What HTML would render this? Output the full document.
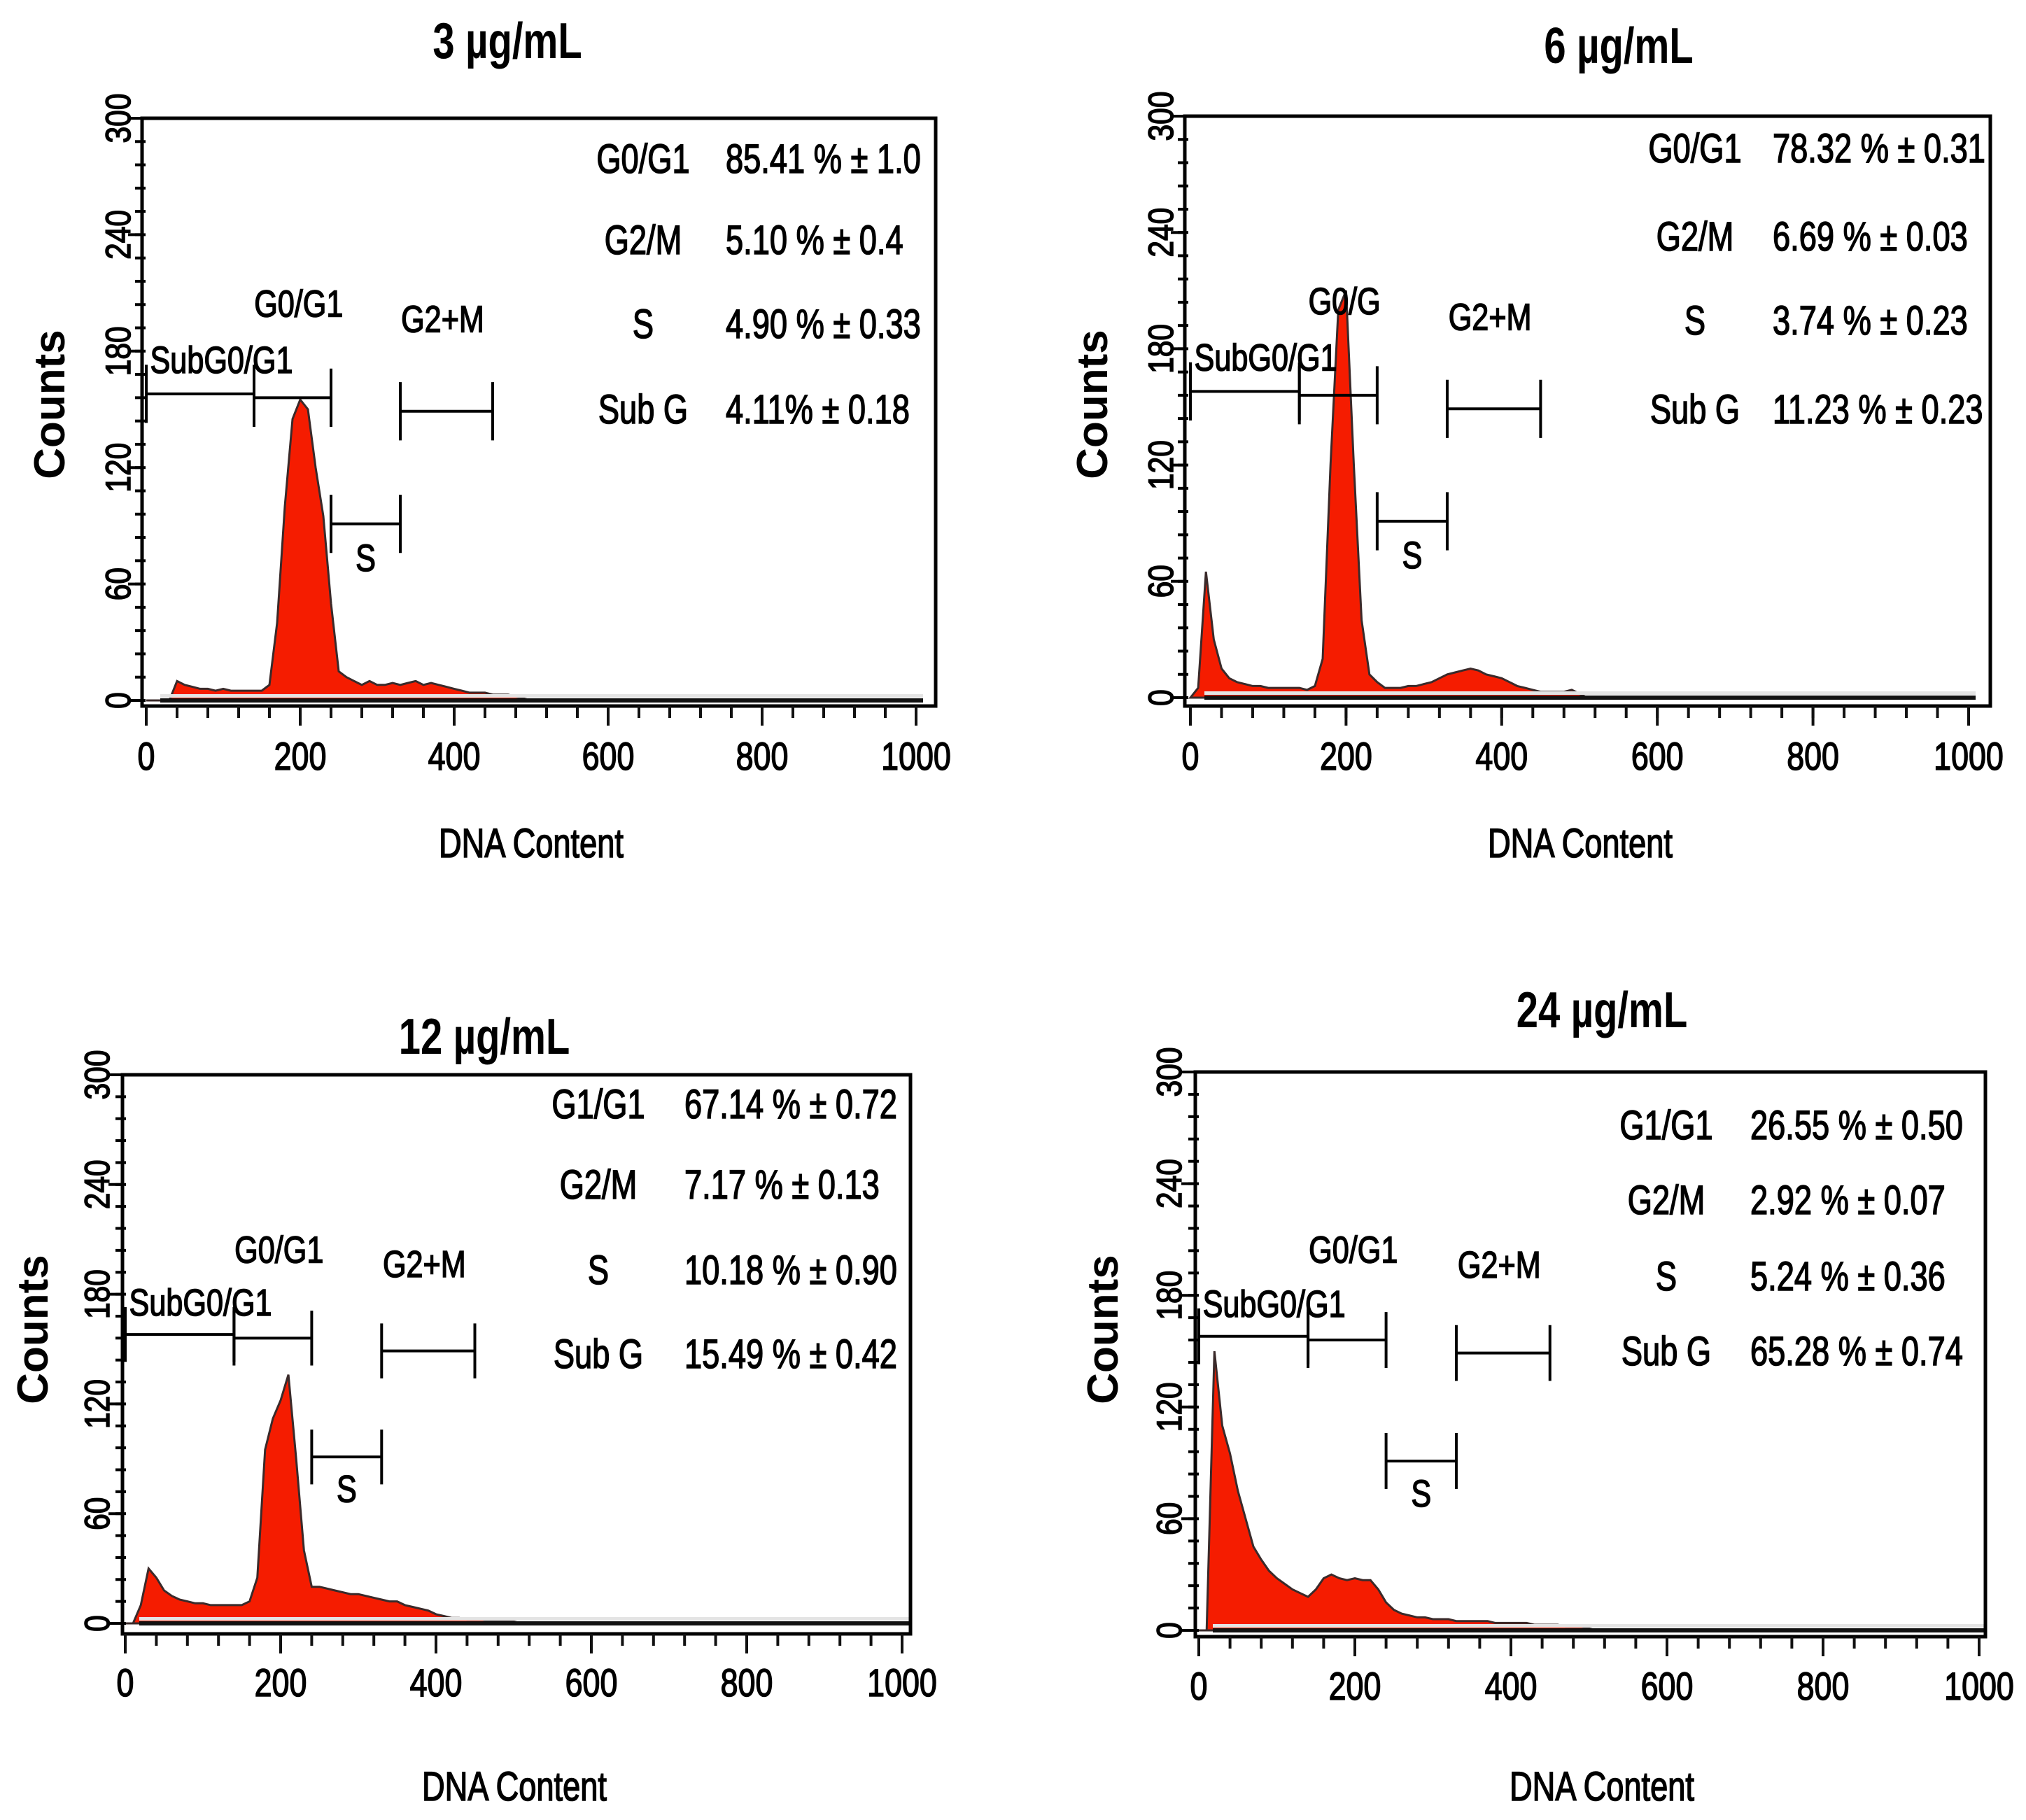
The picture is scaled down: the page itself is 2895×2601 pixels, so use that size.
<!DOCTYPE html>
<html><head><meta charset="utf-8"><style>
html,body{margin:0;padding:0;background:#fff;}
svg{display:block;}
text{font-family:"Liberation Sans",sans-serif;fill:#000;}
.b{stroke:#000;stroke-width:1.6px;}
</style></head><body>
<svg id="fig" width="2895" height="2601" viewBox="0 0 2895 2601" xmlns="http://www.w3.org/2000/svg"></svg>
<script>
// Bin positions (DNA content) shared by all panels
const bins = [0,10,20,30,40,50,60,70,80,90,100,110,120,130,140,150,160,170,180,190,200,210,220,230,240,250,260,270,280,290,300,310,320,330,340,350,360,370,380,390,400,410,420,430,440,450,460,470,480,490,500,510];
// Count series per concentration
const counts3 = [0,0,0,0,10,8,7,6,6,5,6,5,5,5,5,5,8,40,100,145,155,150,120,95,50,15,12,10,8,10,8,8,9,8,9,10,8,9,8,7,6,5,4,4,4,3,3,3,2,1,0,0];
const counts6 = [0,5,65,30,15,10,8,7,6,6,5,5,5,5,5,4,6,20,120,200,210,120,40,12,8,5,5,5,6,6,7,8,10,12,13,14,15,14,12,11,10,8,6,5,4,3,3,3,3,4,2,0];
const counts12 = [0,0,10,30,25,18,15,13,12,11,11,10,10,10,10,10,12,25,95,112,122,136,90,40,20,20,19,18,17,16,16,15,14,13,12,12,10,9,8,7,5,4,3,3,2,2,2,1,1,1,1,0];
const counts24 = [0,0,150,110,95,75,60,45,38,32,28,25,22,20,18,22,28,30,28,27,28,27,27,22,15,11,9,8,7,7,6,6,6,5,5,5,5,5,4,4,4,4,4,3,3,3,3,2,2,2,1,0];
const yTicks = [0,60,120,180,240,300];
const xTicks = [0,200,400,600,800,1000];
const titles = ["3 µg/mL","6 µg/mL","12 µg/mL","24 µg/mL"];
const statLabels1 = ["G0/G1","G2/M","S","Sub G"];
const statLabels2 = ["G1/G1","G2/M","S","Sub G"];
const stats3 = ["85.41 % ± 1.0","5.10 % ± 0.4","4.90 % ± 0.33","4.11% ± 0.18"];
const stats6 = ["78.32 % ± 0.31","6.69 % ± 0.03","3.74 % ± 0.23","11.23 % ± 0.23"];
const stats12 = ["67.14 % ± 0.72","7.17  % ± 0.13","10.18 % ± 0.90","15.49 % ± 0.42"];
const stats24 = ["26.55 % ± 0.50","2.92 % ± 0.07","5.24 % ± 0.36","65.28 % ± 0.74"];

const NS="http://www.w3.org/2000/svg";
const svg=document.getElementById('fig');
function el(tag,attrs,parent){const e=document.createElementNS(NS,tag);for(const k in attrs)e.setAttribute(k,attrs[k]);(parent||svg).appendChild(e);return e;}

const panels=[
 {L:203,R:1337,T:169,B:1009,x0:209,x1:1309,y0:1001,y1:169,title:[725,59],series:counts3,labels:statLabels1,stats:stats3,lx:919,vx:1037,rows:[227,343,463,585],dna:[759,1205],tickY:1080,counts:[70,578],ylab:170},
 {L:1693,R:2844,T:166,B:1009,x0:1701,x1:2813,y0:997,y1:166,title:[2313,66],series:counts6,labels:statLabels1,stats:stats6,lx:2422,vx:2533,rows:[212,338,458,585],dna:[2258,1205],tickY:1080,counts:[1560,578],ylab:1660},
 {L:175,R:1301,T:1536,B:2335,x0:179,x1:1289,y0:2320,y1:1536,title:[692,1482],series:counts12,labels:statLabels2,stats:stats12,lx:855,vx:978,rows:[1578,1693,1815,1935],dna:[735,2553],tickY:2404,counts:[46,1900],ylab:140},
 {L:1708,R:2837,T:1532,B:2339,x0:1713,x1:2828,y0:2330,y1:1532,title:[2289,1444],series:counts24,labels:statLabels2,stats:stats24,lx:2381,vx:2501,rows:[1608,1715,1824,1931],dna:[2289,2553],tickY:2409,counts:[1575,1900],ylab:1672}
];

panels.forEach((p,i)=>{
 const g=el('g',{});
 
 
 const X=v=>p.x0+(p.x1-p.x0)*v/1000;
 const Y=v=>p.y0+(p.y1-p.y0)*v/300;
 const cx="scale(0.78,1)";
 const t=el('text',{x:p.title[0]/0.78,y:p.title[1]+24,'font-size':72,'font-weight':'bold','text-anchor':'middle',transform:cx},g);
 t.textContent=titles[i];
 
 
 let pts=[[X(bins[0]),Y(0)]];
 bins.forEach((b,j)=>pts.push([X(b),Y(p.series[j])]));
 pts.push([X(bins[bins.length-1]),Y(0)]);
 const d='M'+pts.map(q=>q[0].toFixed(1)+','+q[1].toFixed(1)).join('L')+'Z';
 const area=el('path',{d:d,fill:'#f51c00',stroke:'#3a2a2a','stroke-width':3},g);
 
 
 el('rect',{x:p.x0+20,y:p.y0-9,width:p.x1-p.x0-10,height:5,fill:'#e4e4e4'},g);
 const bl=el('line',{x1:p.x0+20,x2:p.x1+10,y1:p.y0,y2:p.y0,stroke:'#111','stroke-width':6},g);
 
 
 const fr=el('rect',{x:p.L,y:p.T,width:p.R-p.L,height:p.B-p.T,fill:'none',stroke:'#000','stroke-width':5},g);
 
 
 for(let v=0;v<=300;v+=12){const yy=Y(v);el('line',{x1:p.L-10,x2:p.L+5,y1:yy,y2:yy,stroke:'#000','stroke-width':4},g);}
 yTicks.forEach(v=>{const yy=Y(v);el('line',{x1:p.L-20,x2:p.L,y1:yy,y2:yy,stroke:'#000','stroke-width':4},g);
  const tl=el('text',{x:0,y:0,'font-size':50,'text-anchor':'middle','class':'b',transform:`translate(${p.ylab+16},${yy}) rotate(-90) scale(0.85,1)`},g);tl.textContent=v;
  
  });
 for(let v=0;v<=1000;v+=40){const xx=X(v);el('line',{x1:xx,x2:xx,y1:p.B,y2:p.B+17,stroke:'#111','stroke-width':4},g);}
 xTicks.forEach(v=>{const xx=X(v);el('line',{x1:xx,x2:xx,y1:p.B,y2:p.B+28,stroke:'#111','stroke-width':4},g);
  const tl=el('text',{x:xx/0.8,y:p.tickY+20,'font-size':56,'text-anchor':'middle','class':'b',transform:'scale(0.8,1)'},g);tl.textContent=v;
  
  });
 const xt=el('text',{x:p.dna[0]/0.78,y:p.dna[1]+20,'font-size':58,'text-anchor':'middle','class':'b',transform:cx},g);xt.textContent='DNA  Content';
 
 
 const yt=el('text',{x:0,y:0,'font-size':62,'font-weight':'bold','text-anchor':'middle',transform:`translate(${p.counts[0]+22},${p.counts[1]}) rotate(-90)`},g);yt.textContent='Counts';
 
 
 p.labels.forEach((s,k)=>{
  const a=el('text',{x:p.lx/0.78,y:p.rows[k]+20,'font-size':58,'text-anchor':'middle','class':'b',transform:cx},g);a.textContent=s;
  
  
  const b=el('text',{x:p.vx/0.78,y:p.rows[k]+20,'font-size':58,'class':'b',transform:cx,'xml:space':'preserve'},g);b.textContent=p.stats[k];
  
  
 });
 const gates=[[0,140,158],[140,240,156],[330,450,149],[240,330,91]];
 gates.forEach(q=>{const yy=Y(q[2]);const h=Math.abs(Y(15)-Y(0));
  const gg=el('g',{stroke:'#000','stroke-width':4},g);
  
  
  el('line',{x1:X(q[0]),x2:X(q[1]),y1:yy,y2:yy},gg);
  el('line',{x1:X(q[0]),x2:X(q[0]),y1:yy-h,y2:yy+h},gg);
  el('line',{x1:X(q[1]),x2:X(q[1]),y1:yy-h,y2:yy+h},gg);});
 const gl=[["SubG0/G1",5,176,'start'],["G0/G1",198,205,'middle'],["G2+M",385,197,'middle'],["S",285,74,'middle']];
 gl.forEach(q=>{const tt=el('text',{x:X(q[1])/0.8,y:Y(q[2])+20,'font-size':54,'text-anchor':q[3],'class':'b',transform:'scale(0.8,1)'},g);tt.textContent=(i==1&&q[0]=="G0/G1")?"G0/G":q[0];
  
  });
});
</script>
</body></html>
